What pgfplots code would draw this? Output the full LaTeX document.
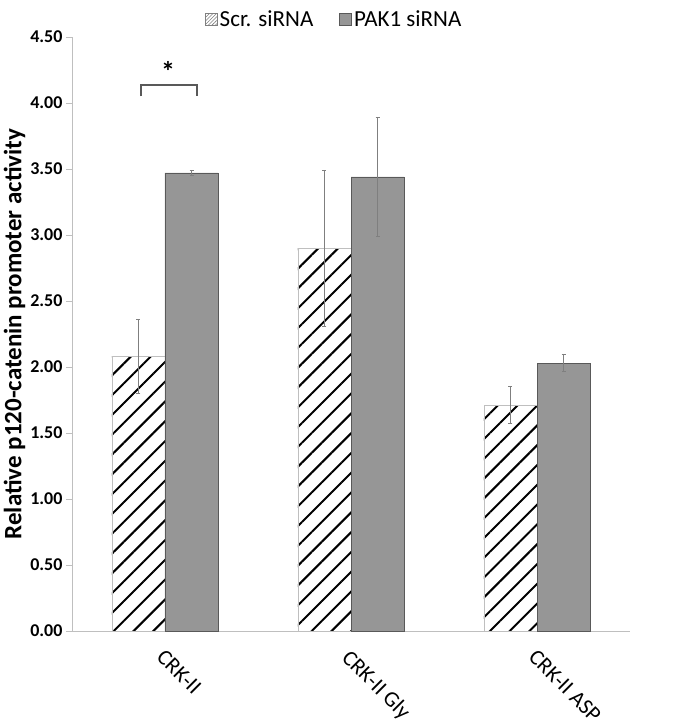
\documentclass[border=0pt]{standalone}
\usepackage{fontspec}
\setmainfont{Carlito}
\usepackage{pgfplots}
\pgfplotsset{compat=1.18}
\usetikzlibrary{patterns.meta}
\definecolor{bargray}{HTML}{969696}
\definecolor{bardark}{HTML}{595959}
\definecolor{axgray}{HTML}{BFBFBF}
\definecolor{errgray}{HTML}{7F7F7F}
\begin{document}
\begin{tikzpicture}
\begin{axis}[
  scale only axis,
  width=558pt, height=594pt,
  ybar=0pt, bar width=0.285,
  xmin=-0.5, xmax=2.5,
  ymin=0, ymax=4.5,
  axis x line=bottom, axis y line=left,
  axis line style={-, axgray, line width=0.8pt},
  xtick={0,1,2},
  xticklabels={CRK-II, CRK-II Gly, CRK-II ASP},
  x tick label style={rotate=-45, anchor=north west, font=\fontsize{22}{26}\selectfont, xshift=5pt, yshift=-4pt},
  extra x ticks={0.5,1.5,2.5},
  extra x tick labels={},
  extra x tick style={major tick length=14pt, tick style={axgray, line width=0.8pt}, tick align=outside},
  major x tick style={draw=none},
  ytick={0,0.5,...,4.5},
  y tick label style={font=\bfseries\fontsize{18}{21}\selectfont},
  yticklabel style={/pgf/number format/.cd, fixed, fixed zerofill, precision=2, assume math mode=true},
  scaled y ticks=false,
  tick align=outside,
  major y tick style={axgray, line width=0.8pt},
  major tick length=6pt,
  ylabel={Relative p120-catenin promoter activity},
  ylabel style={font=\bfseries\fontsize{25}{29}\selectfont, yshift=-2pt},
  legend style={at={(axis description cs:0.47,1.01)}, anchor=south, draw=none, inner sep=1pt, legend columns=2, font=\fontsize{23}{27}\selectfont, /tikz/every even column/.append style={column sep=24pt}},
  legend image code/.code={\draw[#1] (0cm,-0.21cm) rectangle (0.42cm,0.21cm);},
  error bars/error bar style={errgray, line width=0.7pt},
  error bars/error mark options={rotate=90, mark size=2pt, errgray, line width=0.7pt},
  clip=false,
]
\addplot[draw=axgray, line width=0.6pt, pattern={Lines[angle=45, distance=14pt, line width=2pt]}, pattern color=black,
  legend image code/.code={\draw[draw=gray, line width=0.6pt, pattern={Lines[angle=45, distance=2.5pt, line width=0.6pt]}, pattern color=gray] (0cm,-0.21cm) rectangle (0.42cm,0.21cm);},
  error bars/.cd, y dir=both, y explicit]
  coordinates {(0,2.08) +- (0,0.28) (1,2.90) +- (0,0.59) (2,1.71) +- (0,0.14)};
\addplot[draw=bardark, fill=bargray, line width=0.8pt,
  error bars/.cd, y dir=both, y explicit]
  coordinates {(0,3.47) +- (0,0.02) (1,3.44) +- (0,0.45) (2,2.03) +- (0,0.065)};
\legend{Scr. siRNA, PAK1 siRNA}
\draw[bardark, line width=1.2pt] (axis cs:-0.129,4.05) -- (axis cs:-0.129,4.136) -- (axis cs:0.172,4.136) -- (axis cs:0.172,4.05);
\node[font=\bfseries\fontsize{28}{32}\selectfont] at (axis cs:0.016,4.24) {*};
\coordinate (bl) at (rel axis cs:0,0);
\end{axis}
\pgfresetboundingbox
\path[use as bounding box] ([xshift=-72pt,yshift=-94pt]bl) rectangle ([xshift=601pt,yshift=631pt]bl);
\end{tikzpicture}
\end{document}
